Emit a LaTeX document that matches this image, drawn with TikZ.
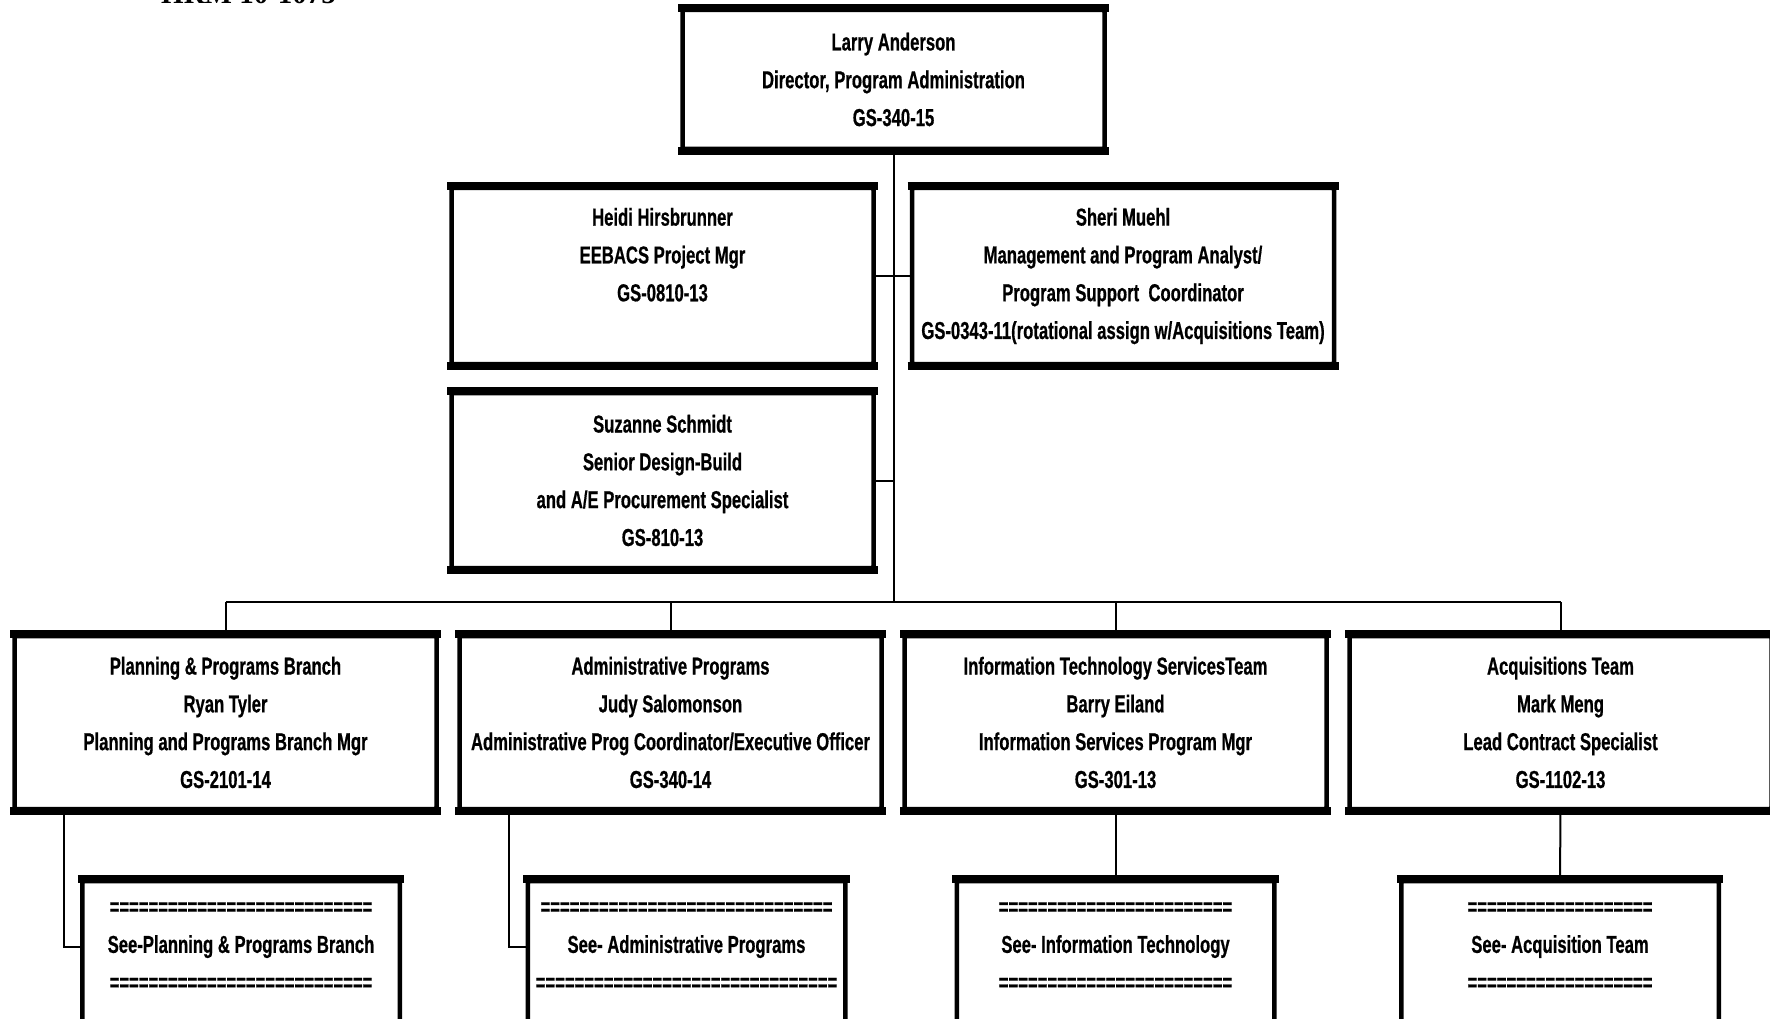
\documentclass[tikz,border=0pt]{standalone}
\usepackage{fontspec}
\newfontfamily\boxfont[FakeStretch=0.68,FakeBold=0.6]{Liberation Sans}
\newfontfamily\reffont{Liberation Serif}
\tikzset{
  box/.style={draw, line width=4.5pt, rounded corners=1.5pt, minimum width=422pt,
    inner sep=0pt, align=center, font=\boxfont\bfseries\fontsize{24.5}{37.8}\selectfont},
  subbox/.style={box, minimum width=317.5pt, minimum height=149pt},
  bar/.style={line width=8pt, shorten <=-2.25pt, shorten >=-2.25pt},
  link/.style={line width=2pt}
}
\begin{document}
\begin{tikzpicture}[x=1pt,y=-1pt]
\useasboundingbox (0,0) rectangle (1770,1019);
\clip (0,0) rectangle (1770,1019);

\node[anchor=base west, inner sep=0pt, font=\reffont\bfseries\fontsize{29}{29}\selectfont] (docref) at (161,4) {HRM 10-1075};

\node[box, minimum height=139pt] (larry) at (893.5,79.5) {Larry Anderson\\Director, Program Administration\\GS-340-15};
\node[box, minimum height=176pt] (heidi) at (662.5,276) {Heidi Hirsbrunner\\EEBACS Project Mgr\\GS-0810-13\\\mbox{}\rule[-5pt]{0pt}{0pt}};
\node[box, minimum height=176pt] (sheri) at (1123,276) {Sheri Muehl\\Management and Program Analyst/\\Program Support\ \ Coordinator\\GS-0343-11(rotational assign w/Acquisitions Team)};
\node[box, minimum height=175pt] (suz) at (662.5,480.5) {Suzanne Schmidt\\Senior Design-Build\\and A/E Procurement Specialist\\GS-810-13};

\node[box, minimum height=173pt] (b1) at (225.5,722.5) {Planning \& Programs Branch\\Ryan Tyler\\Planning and Programs Branch Mgr\\GS-2101-14};
\node[box, minimum height=173pt] (b2) at (670.5,722.5) {Administrative Programs\\Judy Salomonson\\Administrative Prog Coordinator/Executive Officer\\GS-340-14};
\node[box, minimum height=173pt] (b3) at (1115.5,722.5) {Information Technology ServicesTeam\\Barry Eiland\\Information Services Program Mgr\\GS-301-13};
\node[box, minimum height=173pt] (b4) at (1560.5,722.5) {Acquisitions Team\\Mark Meng\\Lead Contract Specialist\\GS-1102-13};

\node[subbox] (s1) at (241,955.5) {===========================\\See-Planning \& Programs Branch\\===========================\rule[-18pt]{0pt}{0pt}};
\node[subbox] (s2) at (686.5,955.5) {==============================\\See- Administrative Programs\\===============================\rule[-18pt]{0pt}{0pt}};
\node[subbox] (s3) at (1115.5,955.5) {========================\\See- Information Technology\\========================\rule[-18pt]{0pt}{0pt}};
\node[subbox] (s4) at (1560,955.5) {===================\\See- Acquisition Team\\===================\rule[-18pt]{0pt}{0pt}};

\foreach \n in {larry,heidi,sheri,suz,b1,b2,b3,b4} {
  \draw[bar] (\n.north west) -- (\n.north east);
  \draw[bar] (\n.south west) -- (\n.south east);
}
\foreach \n in {s1,s2,s3,s4} {
  \draw[bar] (\n.north west) -- (\n.north east);
}

\coordinate (hub) at (893.5,602);
\coordinate (k1) at (64,947);
\coordinate (k2) at (509,947);

\draw[link] (larry.south) -- (hub);
\draw[link] (heidi.east) -- (sheri.west);
\draw[link] (suz.east) -- (suz.east -| hub);
\draw[link] (b1.north |- hub) -- (b4.north |- hub);
\foreach \n in {b1,b2,b3,b4} {
  \draw[link] (\n.north |- hub) -- (\n.north);
}
\draw[link] (k1 |- b1.south) -- (k1) -- (s1.west |- k1);
\draw[link] (k2 |- b2.south) -- (k2) -- (s2.west |- k2);
\draw[link] (b3.south) -- (s3.north);
\draw[link] (b4.south) -- (s4.north);
\end{tikzpicture}
\end{document}
